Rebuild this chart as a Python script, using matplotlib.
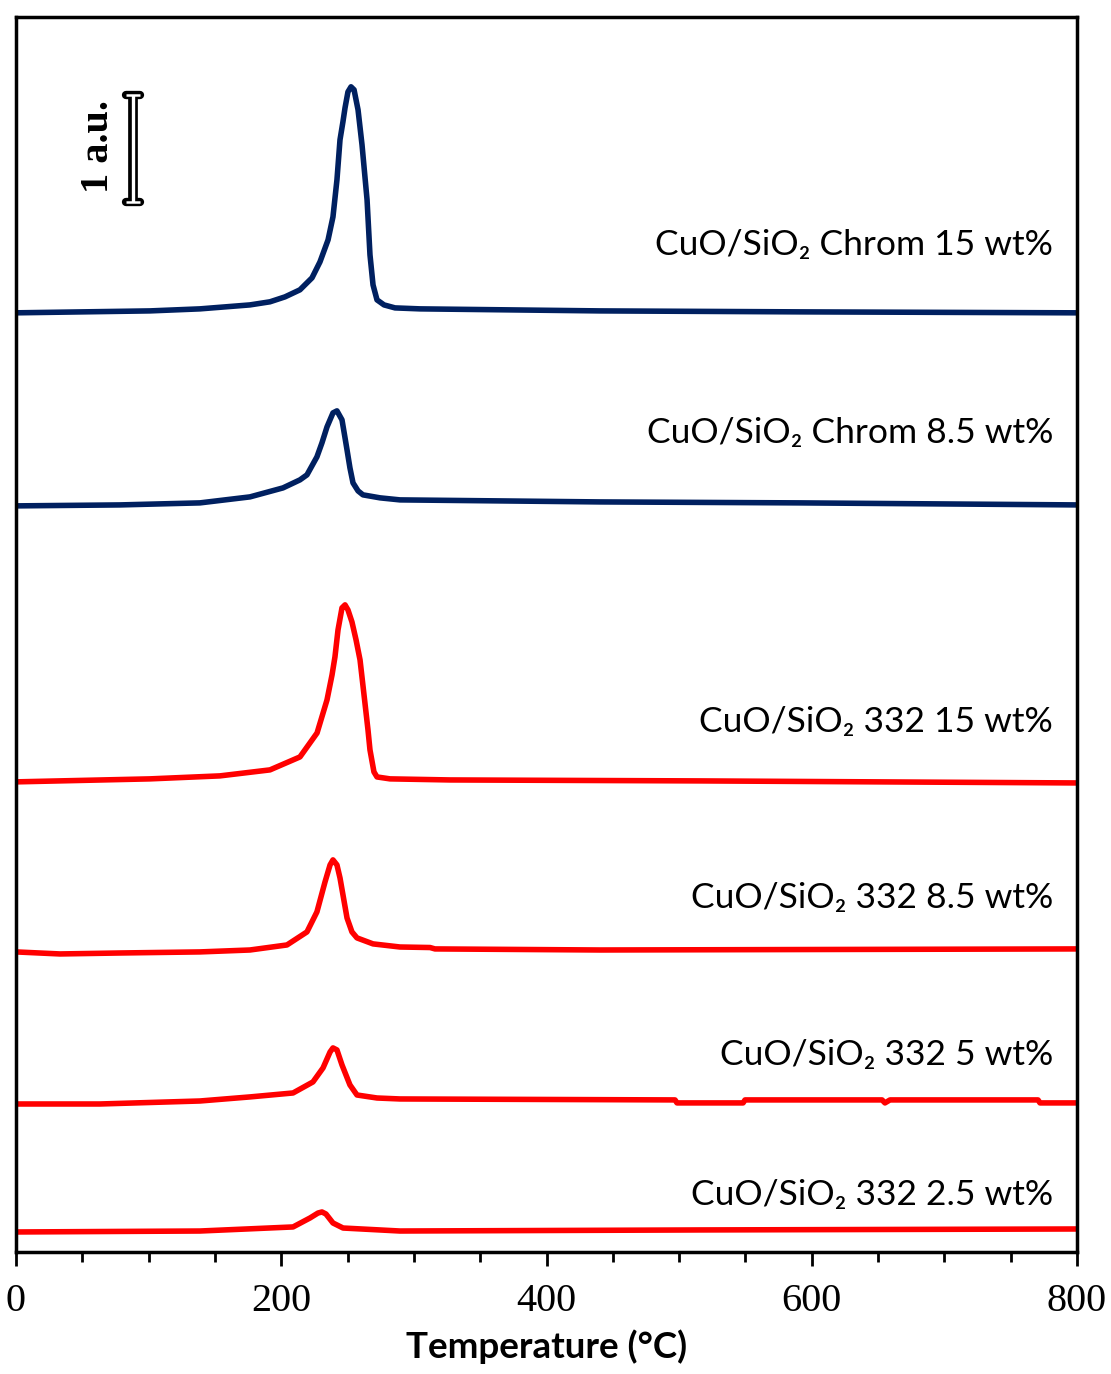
import matplotlib
matplotlib.use('Agg')
import matplotlib.pyplot as plt
from matplotlib.ticker import MultipleLocator

# temperature (C) and signal (a.u., stacked)
chrom15_T = [0, 101.0, 138.7, 176.4, 191.5, 202.8, 214.1, 223.2, 229.2, 235.3, 239.0, 242.0,
             244.3, 246.5, 248.1, 250.3, 252.6, 254.9, 257.9, 260.9, 264.7, 266.9, 269.2, 272.2,
             277.5, 285.8, 304.6, 440.3, 591.1, 800]
chrom15_y = [8.776, 8.794, 8.813, 8.850, 8.879, 8.925, 8.991, 9.103, 9.252, 9.458, 9.673, 10.019,
             10.393, 10.560, 10.692, 10.841, 10.888, 10.860, 10.673, 10.346, 9.832, 9.318, 9.037, 8.897,
             8.850, 8.822, 8.813, 8.794, 8.785, 8.776]

chrom85_T = [0, 78.4, 138.7, 176.4, 201.3, 214.1, 219.4, 226.9, 230.7, 234.5, 239.0, 242.0,
             245.8, 248.1, 249.6, 251.8, 254.1, 257.9, 261.6, 274.5, 289.5, 440.3, 591.1, 800]
chrom85_y = [6.972, 6.981, 7.000, 7.056, 7.140, 7.215, 7.262, 7.430, 7.561, 7.710, 7.841, 7.860,
             7.776, 7.607, 7.495, 7.327, 7.187, 7.112, 7.075, 7.047, 7.028, 7.009, 7.000, 6.981]

s332_15_T = [0, 101.0, 153.8, 191.5, 214.1, 227.0, 234.5, 238.3, 240.5, 242.8, 245.8, 248.1,
             250.3, 253.3, 256.4, 259.4, 263.1, 265.4, 266.9, 269.9, 272.2, 282.0, 327.2, 515.7, 800]
s332_15_y = [4.393, 4.421, 4.449, 4.505, 4.626, 4.850, 5.159, 5.393, 5.561, 5.813, 6.019, 6.047,
             6.000, 5.888, 5.720, 5.533, 5.131, 4.879, 4.692, 4.486, 4.439, 4.421, 4.411, 4.402, 4.383]

s332_85_T = [0, 33.2, 78.4, 138.7, 176.4, 204.3, 219.4, 226.9, 233.0, 236.8, 239.0, 242.0,
             244.3, 249.6, 253.3, 257.1, 269.2, 289.5, 312.2, 315.9, 440.3, 800]
s332_85_y = [2.804, 2.785, 2.794, 2.804, 2.822, 2.869, 2.991, 3.178, 3.458, 3.617, 3.664, 3.617,
             3.495, 3.121, 2.991, 2.935, 2.879, 2.850, 2.845, 2.832, 2.822, 2.832]

s332_5_T = [0, 63.3, 138.7, 176.4, 208.9, 223.9, 231.5, 236.8, 239.0, 242.0, 245.8, 251.8,
            257.1, 272.2, 289.5, 496.9, 498.4, 548.2, 549.7, 653.0, 655.2, 659.0, 770.6, 772.1, 800]
s332_5_y = [1.383, 1.383, 1.411, 1.449, 1.486, 1.589, 1.720, 1.869, 1.907, 1.888, 1.748, 1.561,
            1.467, 1.439, 1.430, 1.421, 1.393, 1.393, 1.421, 1.421, 1.393, 1.421, 1.421, 1.393, 1.393]

s332_25_T = [0, 138.7, 208.9, 221.7, 227.7, 230.7, 233.7, 239.0, 246.6, 289.5, 515.7, 800]
s332_25_y = [0.187, 0.196, 0.234, 0.318, 0.364, 0.374, 0.355, 0.271, 0.224, 0.196, 0.206, 0.215]

labels = ['CuO/SiO\u2082 Chrom 15 wt%', 'CuO/SiO\u2082 Chrom 8.5 wt%', 'CuO/SiO\u2082 332 15 wt%',
          'CuO/SiO\u2082 332 8.5 wt%', 'CuO/SiO\u2082 332 5 wt%', 'CuO/SiO\u2082 332 2.5 wt%']
label_y = [9.411, 7.654, 4.953, 3.308, 1.841, 0.533]

navy = '#002060'
red = '#FF0000'
series = [(chrom15_T, chrom15_y, navy), (chrom85_T, chrom85_y, navy),
          (s332_15_T, s332_15_y, red), (s332_85_T, s332_85_y, red),
          (s332_5_T, s332_5_y, red), (s332_25_T, s332_25_y, red)]

fig = plt.figure(figsize=(11.11, 13.74), dpi=100)
ax = fig.add_axes([0.0144, 0.0888, 0.9550, 0.8988])

for T, y, c in series:
    ax.plot(T, y, color=c, lw=4.0, solid_joinstyle='round', solid_capstyle='round')

for txt, yy in zip(labels, label_y):
    ax.text(781.9, yy, txt, ha='right', va='center', fontsize=25.5,
            family=['Lato', 'DejaVu Sans'])

# scale bar: 1 a.u.
bar_x = 88.2
bar_lo, bar_hi = 9.813, 10.813
cap = 5.5
ax.plot([bar_x, bar_x], [bar_lo, bar_hi], color='black', lw=7, solid_capstyle='butt')
ax.plot([bar_x - cap, bar_x + cap], [bar_lo, bar_lo], color='black', lw=6, solid_capstyle='round')
ax.plot([bar_x - cap, bar_x + cap], [bar_hi, bar_hi], color='black', lw=6, solid_capstyle='round')
ax.plot([bar_x, bar_x], [bar_lo, bar_hi], color='white', lw=2.4, solid_capstyle='butt')
ax.plot([bar_x - cap, bar_x + cap], [bar_lo, bar_lo], color='white', lw=1.8, solid_capstyle='butt')
ax.plot([bar_x - cap, bar_x + cap], [bar_hi, bar_hi], color='white', lw=1.8, solid_capstyle='butt')
ax.text(62.5, 10.33, '1 a.u.', rotation=90, ha='center', va='center', fontsize=29,
        fontweight='bold', family='Liberation Serif')

ax.set_xlim(0, 800)
ax.set_ylim(0, 11.54)
ax.xaxis.set_major_locator(MultipleLocator(200))
ax.xaxis.set_minor_locator(MultipleLocator(50))
ax.tick_params(axis='x', which='major', direction='out', length=10, width=2, pad=12,
               labelsize=29)
ax.tick_params(axis='x', which='minor', direction='out', length=7, width=2)
ax.set_yticks([])
for lab in ax.get_xticklabels():
    lab.set_family('Liberation Serif')
for sp in ax.spines.values():
    sp.set_linewidth(2.5)

ax.set_xlabel('Temperature (\u00b0C)', fontsize=26.5, fontweight='bold', family='Lato', labelpad=7)

fig.savefig('out.png', dpi=100)
